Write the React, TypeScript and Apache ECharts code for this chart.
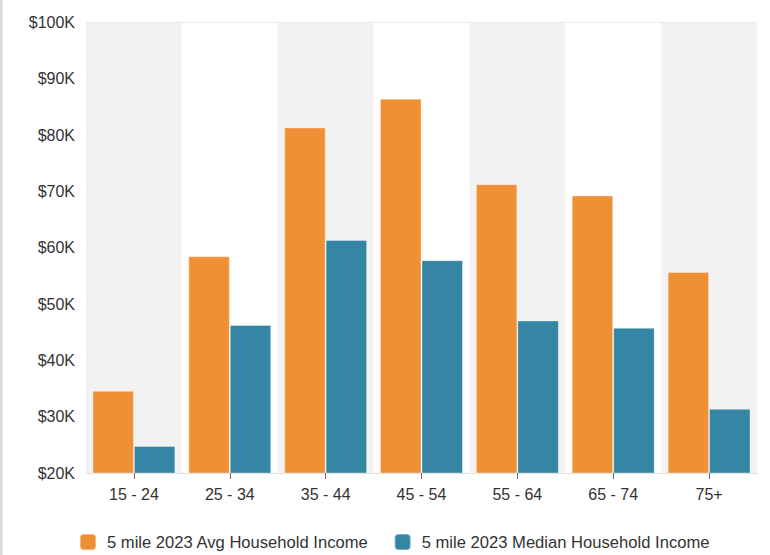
import React, { useEffect, useRef } from "react";
import * as echarts from "echarts";

const categories = ["15 - 24", "25 - 34", "35 - 44", "45 - 54", "55 - 64", "65 - 74", "75+"];
const avgIncome = [34600, 58500, 81400, 86500, 71300, 69300, 55700];
const medianIncome = [24800, 46300, 61400, 57800, 47100, 45800, 31400];
const seriesNames = ["5 mile 2023 Avg Household Income", "5 mile 2023 Median Household Income"];
const seriesColors = ["#EF9034", "#3585A4"];

const FONT = "'Liberation Sans', Arial, Helvetica, sans-serif";

export default function App() {
  const ref = useRef<HTMLDivElement>(null);
  useEffect(() => {
    if (!ref.current) return;
    const chart = echarts.init(ref.current, undefined, { renderer: "svg" });
    chart.setOption({
      animation: false,
      backgroundColor: "#ffffff",
      textStyle: { fontFamily: FONT },
      graphic: [
        { type: "rect", shape: { x: 0, y: 0, width: 2.5, height: 555 }, style: { fill: "#d9d9d9" }, silent: true },
      ],
      grid: { left: 86, right: 13, top: 22.7, bottom: 82, containLabel: false },
      legend: {
        top: 533,
        left: 79,
        padding: 0,
        icon: "roundRect",
        itemWidth: 16,
        itemHeight: 16,
        itemGap: 25,
        textStyle: { fontSize: 16.6, color: "#333", fontFamily: FONT, padding: [0, 0, 0, 6] },
        data: seriesNames,
      },
      xAxis: {
        type: "category",
        data: categories,
        boundaryGap: true,
        axisLine: { show: true, lineStyle: { color: "#e0e0e0", width: 1 } },
        axisTick: { show: true, alignWithLabel: true, length: 6, lineStyle: { color: "#666" } },
        axisLabel: { fontSize: 16, color: "#333", margin: 13, fontFamily: FONT },
        splitArea: { show: true, areaStyle: { color: ["#f2f2f2", "#ffffff"] } },
        splitLine: { show: false },
      },
      yAxis: {
        type: "value",
        min: 20000,
        max: 100000,
        interval: 10000,
        axisLine: { show: false },
        axisTick: { show: false },
        axisLabel: {
          fontSize: 16,
          color: "#333",
          margin: 11,
          fontFamily: FONT,
          formatter: (v: number) => `$${Math.round(v / 1000)}K`,
        },
        splitLine: { show: true, lineStyle: { color: "#e4e4e4", width: 1 } },
      },
      series: [
        {
          name: seriesNames[0],
          type: "bar",
          data: avgIncome,
          barGap: "0%",
          barCategoryGap: "13.5%",
          itemStyle: { color: seriesColors[0], borderColor: "rgba(255,255,255,0.35)", borderWidth: 1 },
        },
        {
          name: seriesNames[1],
          type: "bar",
          data: medianIncome,
          barGap: "0%",
          barCategoryGap: "13.5%",
          itemStyle: { color: seriesColors[1], borderColor: "rgba(255,255,255,0.35)", borderWidth: 1 },
        },
      ],
    });
    return () => chart.dispose();
  }, []);
  return (
    <div
      ref={ref}
      style={{ position: "fixed", left: 0, top: 0, width: 770, height: 555 }}
    />
  );
}
